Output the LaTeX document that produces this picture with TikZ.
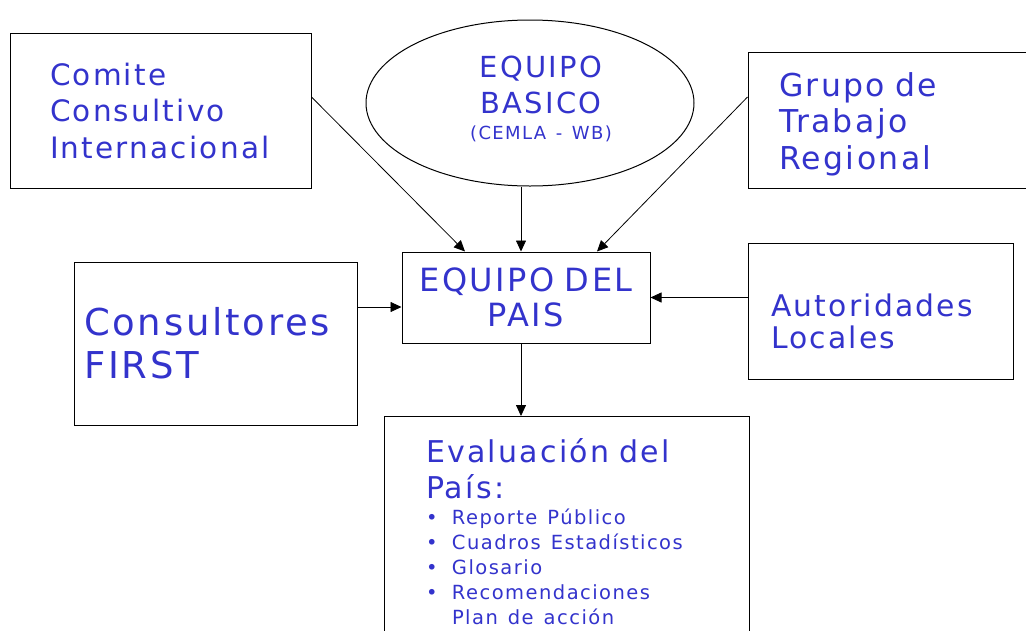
\documentclass[tikz,border=0pt]{standalone}
\usepackage{fontspec}
\setmainfont{DejaVu Sans}[LetterSpace=7.5]
\usetikzlibrary{arrows.meta,shapes.geometric}
\definecolor{txtblue}{RGB}{51,51,204}
\setlength{\parindent}{0pt}

\newcommand{\fs}[2]{\fontsize{#1}{#2}\selectfont}
\newcommand{\itm}{\makebox[26pt][l]{\textbullet}}

\begin{document}
\begin{tikzpicture}[x=1pt, y=-1pt,
    box/.style={draw, line width=1pt, text=txtblue, align=left, inner ysep=0pt},
    arr/.style={-{Triangle[length=11pt,width=10pt]}, line width=0.8pt}]
\useasboundingbox (0,0) rectangle (1026,630);
\clip (0,0) rectangle (1026,630);

\node[box, minimum height=155pt, text width=241pt, inner xsep=30pt, font=\fs{29.5}{36.5}] (comite) at (160.5,110.5) {\hspace*{10pt}Comite\\\hspace*{10pt}Consultivo\\\hspace*{10pt}Internacional};
\node[draw, ellipse, line width=1pt, minimum width=328pt, minimum height=166pt, inner sep=0pt] (basico) at (530,103) {};
\node[text=txtblue, align=center, text width=220pt, inner sep=0pt, font=\fs{29}{36}] (basicotxt) at (541,99) {EQUIPO\\BASICO\\[-10pt]{\fs{18}{26}(CEMLA - WB)}};
\node[box, minimum height=136pt, text width=236pt, inner xsep=31pt, font=\fs{31.5}{36.5}] (grupo) at (897,120) {\rule{0pt}{32pt}Grupo de\\Trabajo\\Regional};

\node[box, align=center, minimum height=91pt, text width=238pt, inner xsep=5pt, font=\fs{32}{35}] (pais) at (526,297.5) {EQUIPO DEL\\PAIS};
\node[box, minimum height=163pt, text width=263pt, inner xsep=10pt, font=\fs{37}{43}] (consult) at (215.5,343.5) {Consultores\\FIRST};
\node[box, minimum height=136pt, text width=219pt, inner xsep=23pt, font=\fs{29.8}{32}] (autor) at (880.5,311) {\rule{0pt}{43pt}Autoridades\\Locales};

\node[box, anchor=north, text width=281pt, inner xsep=42pt, inner ysep=22pt, font=\fs{30}{36}] (evalua) at (566.5,416) {Evaluación del\\País:\par
  \vspace{1pt}
  {\fs{19.5}{25}\itm Reporte Público\\\itm Cuadros Estadísticos\\\itm Glosario\\\itm Recomendaciones\\\hspace*{26pt}Plan de acción\par}};

\coordinate (mid) at ([xshift=-5pt]pais.north);
\coordinate (inpt) at ([yshift=-9.5pt]pais.west);
\draw[arr] ([yshift=13.5pt]comite.east) -- ([xshift=-61pt]pais.north);
\draw[arr] (basico.south -| mid) -- (mid);
\draw[arr] ([yshift=23pt]grupo.west) -- ([xshift=71pt]pais.north);
\draw[arr] (consult.east |- inpt) -- (inpt);
\draw[arr] (autor.west |- pais.east) -- (pais.east);
\draw[arr] (pais.south -| mid) -- (evalua.north -| mid);
\end{tikzpicture}
\end{document}
